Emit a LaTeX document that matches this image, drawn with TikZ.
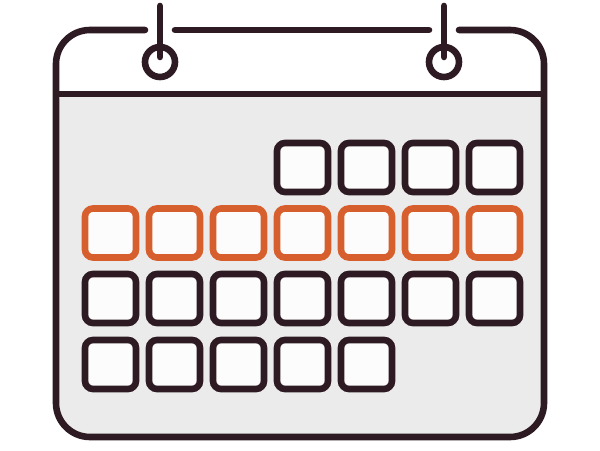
\documentclass[tikz,border=0pt]{standalone}
\definecolor{inkdark}{HTML}{2E1A22}
\definecolor{dayorange}{HTML}{D65F2D}
\definecolor{pagegray}{HTML}{EBEBEB}
\definecolor{dayfill}{HTML}{FCFCFC}
\tikzset{
    dayBox/.style={rectangle, draw=inkdark, fill=dayfill, line width=0.165cm, rounded corners=0.2cm,
        minimum width=1.275cm, minimum height=1.225cm, inner sep=0pt, outer sep=0pt},
    weekBox/.style={dayBox, draw=dayorange},
    ringNode/.style={circle, draw=inkdark, line width=0.165cm, minimum size=0.75cm, inner sep=0pt, outer sep=0pt},
    frameLine/.style={draw=inkdark, line width=0.165cm, line cap=round}
}
\begin{document}
\begin{tikzpicture}[x=0.025cm, y=-0.025cm]

    % ============================================================
    % PAGE
    % ============================================================
    \useasboundingbox (0,0) rectangle (600,451);
    \fill[white] (0,0) rectangle (600,451);

    % grey sheet under the header
    \fill[pagegray, rounded corners=0.85cm]
        (56,80) -- (56,437) -- (544,437) -- (544,80) -- cycle;
    \fill[white] (50,20) rectangle (550,94);

    % ============================================================
    % FRAME
    % ============================================================
    \draw[frameLine, rounded corners=0.85cm]
        (145,30) -- (56,30) -- (56,437) -- (544,437) -- (544,30) -- (459,30);
    \draw[frameLine] (175,30) -- (429,30);
    \draw[frameLine, line cap=butt] (56,94) -- (544,94);

    % ============================================================
    % RINGS AND PINS
    % ============================================================
    \node[ringNode] (ringL) at (160,62) {};
    \node[ringNode] (ringR) at (444,62) {};
    \coordinate (pinL) at (160,6);
    \coordinate (pinR) at (444,6);
    \draw[frameLine] (pinL) -- ([yshift=0.125cm]ringL.center);
    \draw[frameLine] (pinR) -- ([yshift=0.125cm]ringR.center);

    % ============================================================
    % DAYS
    % ============================================================
    \foreach \col in {3,...,6}
        \node[dayBox] (a\col) at (110.5+64*\col,167.5) {};
    \foreach \col in {0,...,6}
        \node[weekBox] (b\col) at (110.5+64*\col,233) {};
    \foreach \col in {0,...,6}
        \node[dayBox] (c\col) at (110.5+64*\col,298.5) {};
    \foreach \col in {0,...,4}
        \node[dayBox] (d\col) at (110.5+64*\col,364.5) {};

\end{tikzpicture}
\end{document}
